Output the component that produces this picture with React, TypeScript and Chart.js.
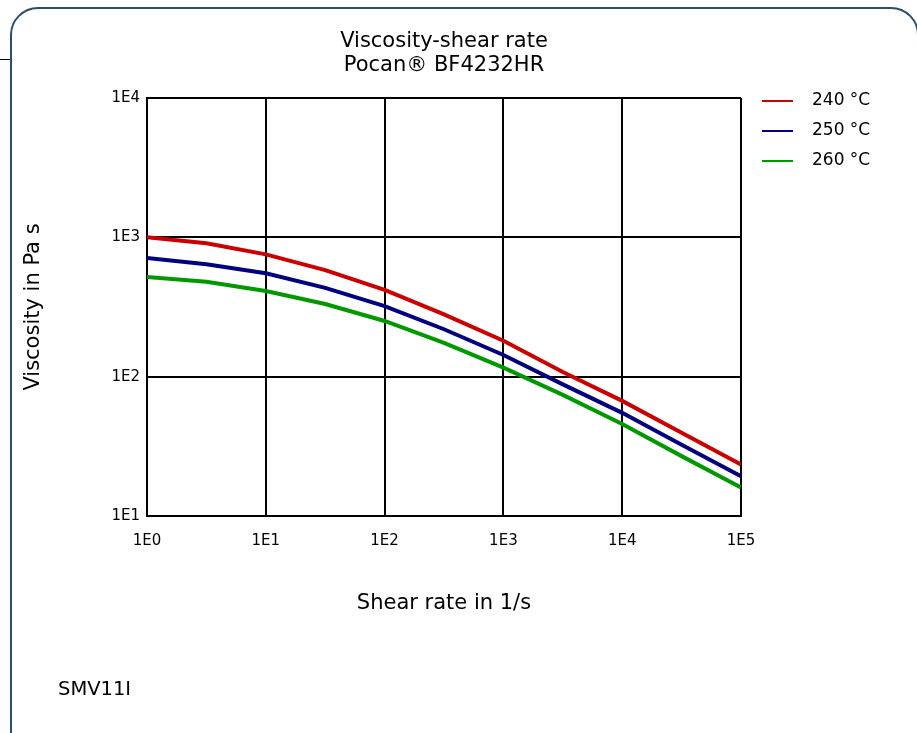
import React, { useEffect, useRef } from "react";
import { Chart, registerables } from "chart.js";

Chart.register(...registerables);

const titleLines = ["Viscosity-shear rate", "Pocan® BF4232HR"];
const xAxisTitle = "Shear rate in 1/s";
const yAxisTitle = "Viscosity in Pa s";
const footerText = "SMV11I";

const shearRates = [1, 3.162, 10, 31.62, 100, 316.2, 1000, 3162, 10000, 31623, 100000];
const seriesLabels = ["240 °C", "250 °C", "260 °C"];
const seriesColors = ["#cc0000", "#000080", "#009900"];
const visc240 = [1000, 906, 755, 582, 419, 280, 181, 108, 67, 39.6, 23.4];
const visc250 = [710, 640, 552, 434, 321, 219, 143, 88, 55, 32.4, 19.3];
const visc260 = [519, 480, 412, 332, 251, 175, 116, 74, 45.7, 26.9, 16.0];

const xTickValues = [1, 10, 100, 1000, 10000, 100000];
const xTickLabels = ["1E0", "1E1", "1E2", "1E3", "1E4", "1E5"];
const yTickValues = [10, 100, 1000, 10000];
const yTickLabels = ["1E1", "1E2", "1E3", "1E4"];

const FONT = '"DejaVu Sans", "Open Sans", sans-serif';

const sideLegend = {
  id: "sideLegend",
  afterDraw(chart: any) {
    const ctx = chart.ctx;
    const { right, top } = chart.chartArea;
    ctx.save();
    chart.data.datasets.forEach((ds: any, i: number) => {
      const y = top + 3 + i * 30;
      ctx.strokeStyle = ds.borderColor;
      ctx.lineWidth = 2;
      ctx.beginPath();
      ctx.moveTo(right + 21, y);
      ctx.lineTo(right + 52, y);
      ctx.stroke();
      ctx.fillStyle = "#000";
      ctx.font = `17px ${FONT}`;
      ctx.textBaseline = "middle";
      ctx.textAlign = "left";
      ctx.fillText(ds.label, right + 71, y);
    });
    ctx.restore();
  },
};

export default function App() {
  const ref = useRef<HTMLCanvasElement | null>(null);

  useEffect(() => {
    if (!ref.current) return;
    const seriesValues = [visc240, visc250, visc260];
    const chart = new Chart(ref.current, {
      type: "line",
      data: {
        datasets: seriesValues.map((vals, i) => ({
          label: seriesLabels[i],
          data: shearRates.map((x, j) => ({ x, y: vals[j] })),
          borderColor: seriesColors[i],
          backgroundColor: seriesColors[i],
          borderWidth: 4,
          pointRadius: 0,
          tension: 0,
          fill: false,
        })),
      },
      options: {
        responsive: false,
        animation: false,
        devicePixelRatio: 1,
        layout: { padding: { left: 20, right: 176, top: 30, bottom: 117 } },
        plugins: {
          legend: { display: false },
          tooltip: { enabled: false },
          title: {
            display: true,
            fullSize: false,
            text: titleLines,
            color: "#000",
            font: { family: FONT, size: 21, weight: "normal", lineHeight: "24px" },
            padding: { top: 0, bottom: 20 },
          },
        },
        scales: {
          x: {
            type: "logarithmic",
            min: 1,
            max: 100000,
            afterFit: (s: any) => {
              s.height = 100;
            },
            afterBuildTicks: (s: any) => {
              s.ticks = xTickValues.map((v) => ({ value: v }));
            },
            ticks: {
              autoSkip: false,
              maxRotation: 0,
              padding: 16,
              color: "#000",
              font: { family: FONT, size: 15 },
              callback: (v: any) => {
                const k = xTickValues.indexOf(Number(v));
                return k >= 0 ? xTickLabels[k] : "";
              },
            },
            grid: { color: "#000", lineWidth: 2, drawTicks: false },
            border: { display: true, color: "#000", width: 2 },
            title: {
              display: true,
              text: xAxisTitle,
              color: "#000",
              font: { family: FONT, size: 21, lineHeight: "24px" },
              padding: { top: 0, bottom: 0 },
            },
          },
          y: {
            type: "logarithmic",
            min: 10,
            max: 10000,
            afterFit: (s: any) => {
              s.width = 127;
            },
            afterBuildTicks: (s: any) => {
              s.ticks = yTickValues.map((v) => ({ value: v }));
            },
            ticks: {
              autoSkip: false,
              padding: 7,
              color: "#000",
              font: { family: FONT, size: 15 },
              callback: (v: any) => {
                const k = yTickValues.indexOf(Number(v));
                return k >= 0 ? yTickLabels[k] : "";
              },
            },
            grid: { color: "#000", lineWidth: 2, drawTicks: false },
            border: { display: true, color: "#000", width: 2 },
            title: {
              display: true,
              text: yAxisTitle,
              color: "#000",
              font: { family: FONT, size: 21, lineHeight: "24px" },
              padding: { top: 2, bottom: 0 },
            },
          },
        },
      },
      plugins: [sideLegend],
    } as any);
    return () => chart.destroy();
  }, []);

  return (
    <div
      style={{
        position: "fixed",
        left: 0,
        top: 0,
        width: 917,
        height: 733,
        overflow: "hidden",
        background: "#fff",
      }}
    >
      <div
        style={{
          position: "absolute",
          left: 10,
          top: 7,
          width: 909,
          height: 800,
          border: "2px solid #2c4e6d",
          borderRadius: 28,
          boxSizing: "border-box",
        }}
      />
      <div
        style={{
          position: "absolute",
          left: 0,
          top: 59,
          width: 10,
          height: 1,
          background: "#000",
        }}
      />
      <canvas
        ref={ref}
        width={917}
        height={733}
        style={{ position: "absolute", left: 0, top: 0, width: 917, height: 733 }}
      />
      <div
        style={{
          position: "absolute",
          left: 58,
          top: 677,
          fontFamily: FONT,
          fontSize: 19.5,
          lineHeight: "24px",
          color: "#000",
        }}
      >
        {footerText}
      </div>
    </div>
  );
}
